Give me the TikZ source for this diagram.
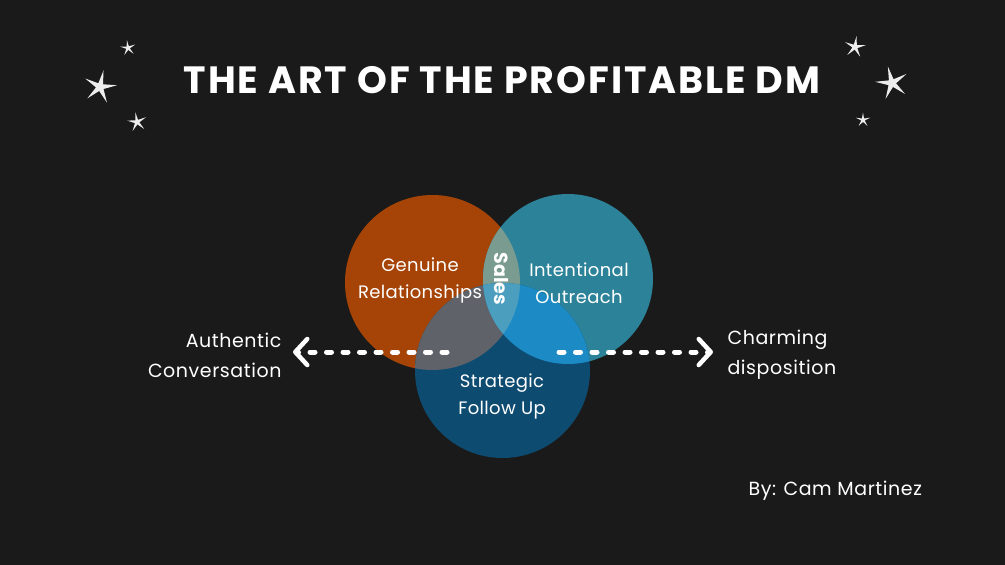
\documentclass[tikz,border=0pt]{standalone}
\usepackage{fontspec}
\setmainfont{Poppins}
\usepackage{tikz}
\usetikzlibrary{arrows.meta,shapes.geometric}
\definecolor{bg}{HTML}{1A1A1A}
\definecolor{cgen}{HTML}{A54406}
\definecolor{cint}{HTML}{2C8399}
\definecolor{cstr}{HTML}{0E4B71}
\definecolor{cgi}{HTML}{7A9B90}
\definecolor{cgs}{HTML}{5F6369}
\definecolor{cis}{HTML}{1C8BC5}
\definecolor{call}{HTML}{4B9EBE}
\definecolor{starw}{HTML}{EDEDED}

\begin{document}
\begin{tikzpicture}[x=1pt,y=-1pt,
  >={Straight Barb[length=12pt,width=26pt,line width=4.5pt,line cap=round,line join=round]},
  lbl/.style={text=white,font=\fontsize{18}{27}\selectfont\addfontfeature{LetterSpace=2},align=center},
  side/.style={text=white,font=\fontsize{19}{30}\selectfont\addfontfeature{LetterSpace=3}},
  dots/.style={white,line width=5pt,line cap=round,dash pattern=on 5pt off 11.5pt},
  spark/.style={star,star points=5,star point ratio=4.2,fill=starw,inner sep=0pt,minimum size=#1}]
  \fill[bg] (0,0) rectangle (1005,565);
  \useasboundingbox (0,0) rectangle (1005,565);

  % title and stars
  \node[text=white,font=\fontsize{38}{40}\selectfont\bfseries\addfontfeature{LetterSpace=5}] (title) at (502,80) {THE ART OF THE PROFITABLE DM};
  \node[spark=16pt,rotate=8] (s1) at (128,48) {};
  \node[spark=34pt,rotate=-12] (s2) at (100,87) {};
  \node[spark=20pt,rotate=10] (s3) at (137,122) {};
  \node[spark=22pt,rotate=-8] (s4) at (855,47) {};
  \node[spark=34pt,rotate=14] (s5) at (892,83) {};
  \node[spark=15pt] (s6) at (863,120) {};

  % venn
  \coordinate (cg) at (432.5,282.5);
  \coordinate (ci) at (568,279);
  \coordinate (cs) at (502.5,370.5);
  \fill[cgen] (cg) circle[radius=87.5pt];
  \fill[cint] (ci) circle[radius=85pt];
  \fill[cstr] (cs) circle[radius=87.5pt];
  \begin{scope}
    \clip (cg) circle[radius=87.5pt];
    \fill[cgi] (ci) circle[radius=85pt];
    \fill[cgs] (cs) circle[radius=87.5pt];
  \end{scope}
  \begin{scope}
    \clip (ci) circle[radius=85pt];
    \fill[cis] (cs) circle[radius=87.5pt];
    \clip (cg) circle[radius=87.5pt];
    \fill[call] (cs) circle[radius=87.5pt];
  \end{scope}

  \node[lbl] (gen) at (420,280) {Genuine\\Relationships};
  \node[lbl] (int) at (579,283) {Intentional\\Outreach};
  \node[lbl] (str) at (502,396) {Strategic\\Follow Up};
  \node[text=white,font=\fontsize{19}{20}\selectfont\bfseries,rotate=-90] (sales) at (501,279) {Sales};

  % arrows
  \coordinate (la) at (447,352);
  \coordinate (lb) at (293,352);
  \coordinate (ra) at (559,352);
  \coordinate (rb) at (713,352);
  \draw[dots,->] (la) -- (lb);
  \draw[dots,->] (ra) -- (rb);

  \node[side,align=right,anchor=east] (auth) at (285,355) {Authentic\\Conversation};
  \node[side,align=left,anchor=west] (charm) at (724,355) {Charming\\disposition};
  \node[side,anchor=west] (by) at (745,491) {By: Cam Martinez};
\end{tikzpicture}
\end{document}
